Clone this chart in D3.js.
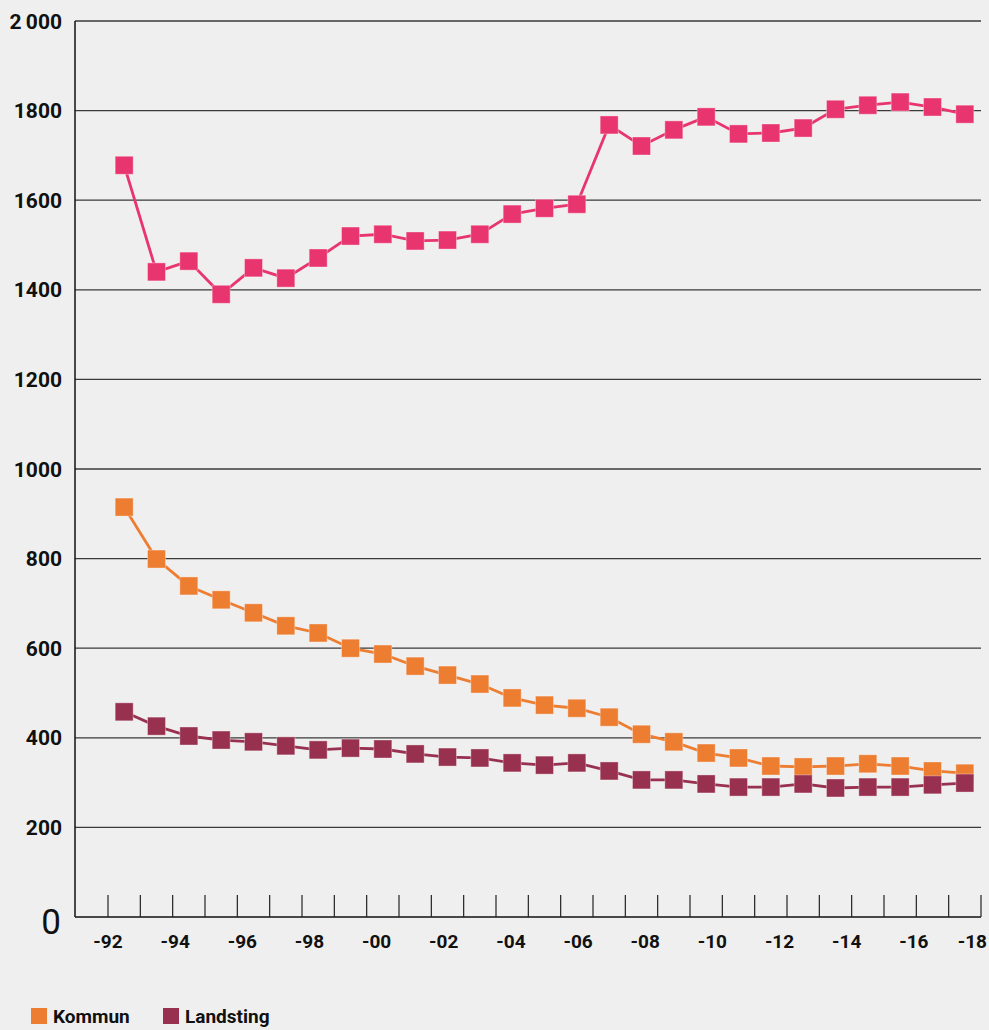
<!DOCTYPE html>
<html>
<head>
<meta charset="utf-8">
<script src="https://cdn.jsdelivr.net/npm/d3@7"></script>
<style>
  body { margin: 0; background: #efefef; }
  svg { display: block; font-family: Roboto, "DejaVu Sans", sans-serif; }
</style>
</head>
<body>
<div id="chart"></div>
<script>
// data
let years = d3.range(1992, 2019);
let xLabels = ['-92','-94','-96','-98','-00','-02','-04','-06','-08','-10','-12','-14','-16','-18'];
let yTicks = [0, 200, 400, 600, 800, 1000, 1200, 1400, 1600, 1800, 2000];

let total = [1678, 1440, 1464, 1390, 1449, 1426, 1471, 1520, 1524, 1509, 1511, 1524, 1569, 1582,
             1591, 1768, 1721, 1757, 1786, 1748, 1750, 1761, 1803, 1812, 1819, 1808, 1792];
let kommun = [915, 799, 739, 708, 679, 650, 634, 600, 587, 560, 540, 520, 489, 473,
              466, 446, 408, 391, 366, 355, 337, 335, 337, 342, 337, 326, 321];
let landsting = [458, 426, 404, 395, 391, 382, 373, 377, 375, 364, 357, 355, 344, 339,
                 344, 326, 306, 306, 297, 290, 290, 297, 288, 290, 290, 295, 299];

let W = 989, H = 1030;
let plotLeft = 75, plotRight = 981, plotTop = 21, plotBottom = 917;

let svg = d3.select('#chart').append('svg')
    .attr('width', W)
    .attr('height', H);

svg.append('rect').attr('width', W).attr('height', H).attr('fill', '#efefef');

let x = d3.scaleLinear().domain([1991.5, 2018.5]).range([108, plotRight]);
let y = d3.scaleLinear().domain([0, 2000]).range([plotBottom, plotTop]);

// gridlines
svg.append('g')
    .selectAll('line')
    .data(yTicks.filter(d => d > 0))
    .join('line')
    .attr('x1', plotLeft).attr('x2', plotRight)
    .attr('y1', d => y(d)).attr('y2', d => y(d))
    .attr('stroke', '#3a3a3a')
    .attr('stroke-width', 1.3);

// y labels
svg.append('g')
    .selectAll('text')
    .data(yTicks.filter(d => d > 0))
    .join('text')
    .attr('x', 62)
    .attr('y', d => y(d))
    .attr('dy', '0.36em')
    .attr('text-anchor', 'end')
    .attr('font-size', 21)
    .attr('font-weight', 700)
    .attr('fill', '#111')
    .text(d => d == 2000 ? '2\u2009000' : d);

svg.append('text')
    .attr('x', 61).attr('y', 934)
    .attr('text-anchor', 'end')
    .attr('font-size', 35)
    .attr('fill', '#111')
    .text('0');

// axes
svg.append('line')
    .attr('x1', plotLeft).attr('x2', plotLeft).attr('y1', plotTop).attr('y2', plotBottom)
    .attr('stroke', '#111').attr('stroke-width', 1.5);
svg.append('line')
    .attr('x1', plotLeft).attr('x2', plotRight).attr('y1', plotBottom).attr('y2', plotBottom)
    .attr('stroke', '#111').attr('stroke-width', 1.5);

let bounds = d3.range(1991.5, 2019, 1);
svg.append('g')
    .selectAll('line')
    .data(bounds)
    .join('line')
    .attr('x1', d => x(d)).attr('x2', d => x(d))
    .attr('y1', plotBottom - 22).attr('y2', plotBottom)
    .attr('stroke', '#222').attr('stroke-width', 1.2);

// x labels spread evenly along the ticks
let lx = d3.scalePoint().domain(xLabels).range([108, plotRight]);
svg.append('g')
    .selectAll('text')
    .data(xLabels)
    .join('text')
    .attr('x', (d, i) => i == xLabels.length - 1 ? 987 : lx(d))
    .attr('y', 948)
    .attr('text-anchor', (d, i) => i == xLabels.length - 1 ? 'end' : 'middle')
    .attr('font-size', 19)
    .attr('font-weight', 700)
    .attr('fill', '#111')
    .text(d => d);

// series
let series = [
    {name: 'Totalt', values: total, color: '#e8356f'},
    {name: 'Kommun', values: kommun, color: '#ed7d31'},
    {name: 'Landsting', values: landsting, color: '#98304f'}
];

let line = d3.line()
    .x((d, i) => x(years[i]))
    .y(d => y(d));

let size = 18;
series.forEach(s => {
    let g = svg.append('g');
    g.append('path')
        .datum(s.values)
        .attr('fill', 'none')
        .attr('stroke', s.color)
        .attr('stroke-width', 2.8)
        .attr('d', line);
    g.selectAll('rect')
        .data(s.values)
        .join('rect')
        .attr('x', (d, i) => x(years[i]) - size / 2)
        .attr('y', d => y(d) - size / 2)
        .attr('width', size)
        .attr('height', size)
        .attr('fill', s.color)
        .attr('stroke', 'rgba(255,255,255,0.35)')
        .attr('stroke-width', 1);
});

// legend
let legend = [
    {name: 'Kommun', color: '#ed7d31', x: 31},
    {name: 'Landsting', color: '#98304f', x: 163}
];
let lg = svg.append('g').selectAll('g').data(legend).join('g')
    .attr('transform', d => `translate(${d.x},1008)`);
lg.append('rect').attr('width', 16).attr('height', 16).attr('fill', d => d.color);
lg.append('text')
    .attr('x', 22).attr('y', 15)
    .attr('font-size', 19)
    .attr('font-weight', 700)
    .attr('fill', '#111')
    .text(d => d.name);
</script>
</body>
</html>
